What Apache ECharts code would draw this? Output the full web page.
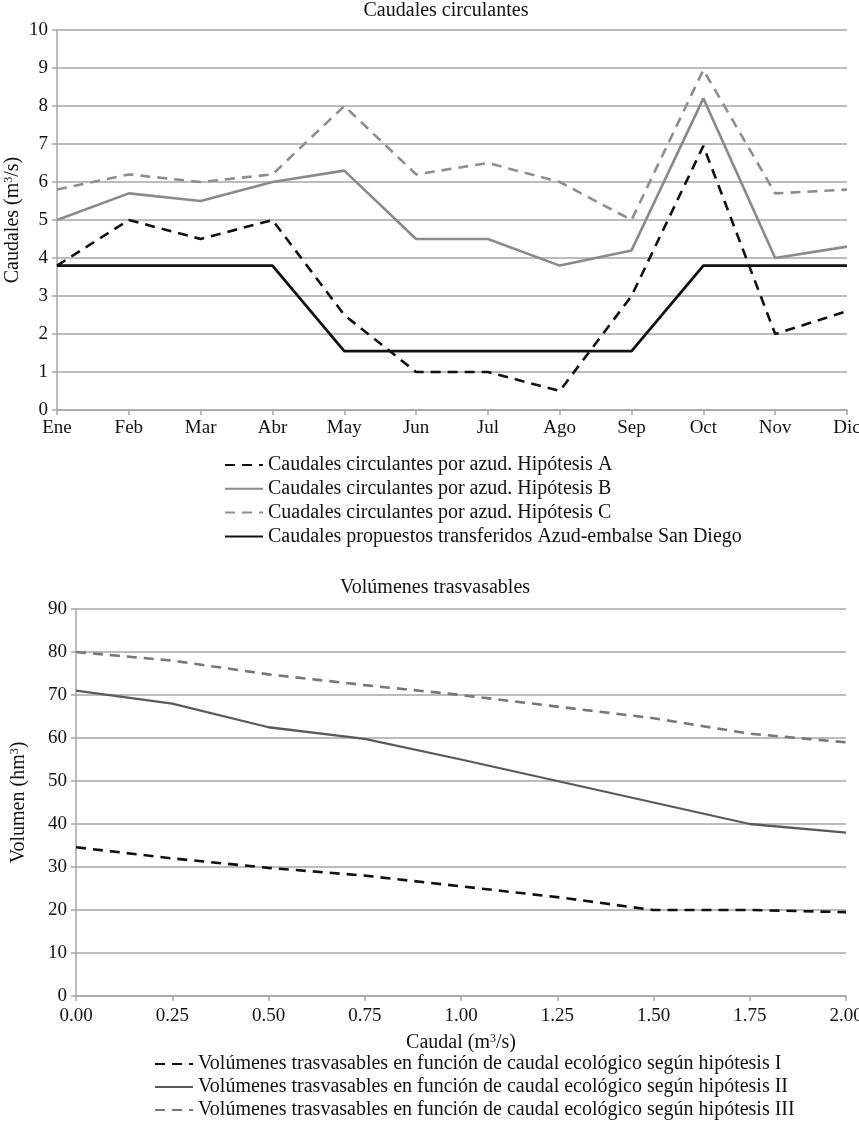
<!DOCTYPE html>
<html><head><meta charset="utf-8">
<script src="https://cdn.jsdelivr.net/npm/echarts@6/dist/echarts.min.js"></script>
<style>html,body{margin:0;padding:0;background:#fff}#c{width:859px;height:1126px}</style>
</head><body><div id="c"></div>
<script>
const months = ['Ene','Feb','Mar','Abr','May','Jun','Jul','Ago','Sep','Oct','Nov','Dic'];
const hipA = [3.8, 5.0, 4.5, 5.0, 2.5, 1.0, 1.0, 0.5, 3.0, 6.95, 2.0, 2.6];
const hipB = [5.0, 5.7, 5.5, 6.0, 6.3, 4.5, 4.5, 3.8, 4.2, 8.2, 4.0, 4.3];
const hipC = [5.8, 6.2, 6.0, 6.2, 8.0, 6.2, 6.5, 6.0, 5.0, 8.95, 5.7, 5.8];
const transf = [3.8, 3.8, 3.8, 3.8, 1.55, 1.55, 1.55, 1.55, 1.55, 3.8, 3.8, 3.8];

const caudal = [0, 0.25, 0.5, 0.75, 1.0, 1.25, 1.5, 1.75, 2.0];
const volI   = [34.6, 32.0, 29.8, 28.0, 25.5, 23.0, 20.0, 20.0, 19.5];
const volII  = [71.0, 68.0, 62.5, 59.8, 55.0, 50.0, 45.0, 40.0, 38.0];
const volIII = [80.0, 78.0, 74.8, 72.3, 70.0, 67.3, 64.6, 61.0, 59.0];

const labelsTop = ['Caudales circulantes por azud. Hipótesis A','Caudales circulantes por azud. Hipótesis B','Cuadales circulantes por azud. Hipótesis C','Caudales propuestos transferidos Azud-embalse San Diego'];
const labelsBot = ['Volúmenes trasvasables en función de caudal ecológico según hipótesis I','Volúmenes trasvasables en función de caudal ecológico según hipótesis II','Volúmenes trasvasables en función de caudal ecológico según hipótesis III'];

const F = 'Liberation Serif';
const txt = {fontFamily: F, fontSize: 19, color: '#111'};
const gridLine = {show: true, lineStyle: {color: '#a6a6a6', width: 1.5}};
const axLine = {show: true, lineStyle: {color: '#a6a6a6', width: 1.5}};
const tick = {show: true, length: 5, lineStyle: {color: '#a6a6a6', width: 1.5}};
const sup = {sup: {fontFamily: F, fontSize: 12, verticalAlign: 'top', padding: [0,0,8,0], color: '#111'}, n: {fontFamily: F, fontSize: 20, color: '#111'}};
const legText = {fontFamily: F, fontSize: 20, color: '#111', lineHeight: 20};

const pair = (xs, ys) => xs.map((x, i) => [x, ys[i]]);

const chart = echarts.init(document.getElementById('c'));
chart.setOption({
  backgroundColor: '#fff',
  animation: false,
  title: [
    {text: 'Caudales circulantes', left: 441, textAlign: 'center', top: -4, textStyle: {fontFamily: F, fontSize: 20, fontWeight: 'normal', color: '#111'}},
    {text: 'Volúmenes trasvasables', left: 430, textAlign: 'center', top: 573, textStyle: {fontFamily: F, fontSize: 20, fontWeight: 'normal', color: '#111'}}
  ],
  grid: [
    {left: 57, right: 12, top: 30, height: 380, outerBoundsMode: 'none', containLabel: false},
    {left: 76, right: 13, top: 609, height: 387, outerBoundsMode: 'none', containLabel: false}
  ],
  legend: [
    {orient: 'vertical', left: 224, top: 455, padding: 0, itemWidth: 38, itemHeight: 16, itemGap: 3.8, itemStyle: {opacity: 0}, textStyle: legText, data: labelsTop},
    {orient: 'vertical', left: 154, top: 1054, padding: 0, itemWidth: 38, itemHeight: 16, itemGap: 3, itemStyle: {opacity: 0}, textStyle: legText, data: labelsBot}
  ],
  xAxis: [
    {gridIndex: 0, type: 'category', data: months, boundaryGap: false, axisLine: axLine, axisTick: tick, axisLabel: Object.assign({margin: 9, interval: 0}, txt), splitLine: {show: false}},
    {gridIndex: 1, type: 'value', min: 0, max: 2, interval: 0.25, axisLine: axLine, axisTick: tick, axisLabel: Object.assign({margin: 11, formatter: v => v.toFixed(2)}, txt), splitLine: {show: false},
     name: '{n|Caudal (m}{sup|3}{n|/s)}', nameLocation: 'middle', nameGap: 37, nameMoveOverlap: false, nameTextStyle: {rich: sup}}
  ],
  yAxis: [
    {gridIndex: 0, type: 'value', min: 0, max: 10, interval: 1, axisLine: axLine, axisTick: tick, axisLabel: Object.assign({margin: 9}, txt), splitLine: gridLine,
     name: '{n|Caudales (m}{sup|3}{n|/s)}', nameLocation: 'middle', nameGap: 34, nameMoveOverlap: false, nameRotate: 90, nameTextStyle: {rich: sup}},
    {gridIndex: 1, type: 'value', min: 0, max: 90, interval: 10, axisLine: axLine, axisTick: tick, axisLabel: Object.assign({margin: 9}, txt), splitLine: gridLine,
     name: '{n|Volumen (hm}{sup|3}{n|)}', nameLocation: 'middle', nameGap: 47, nameMoveOverlap: false, nameRotate: 90, nameTextStyle: {rich: sup}}
  ],
  series: [
    {name: labelsTop[0], type: 'line', xAxisIndex: 0, yAxisIndex: 0, data: hipA, symbol: 'none', lineStyle: {color: '#111', width: 2.6, type: [10, 7]}, itemStyle: {color: '#111'}},
    {name: labelsTop[1], type: 'line', xAxisIndex: 0, yAxisIndex: 0, data: hipB, symbol: 'none', lineStyle: {color: '#8a8a8a', width: 2.6}, itemStyle: {color: '#8a8a8a'}},
    {name: labelsTop[2], type: 'line', xAxisIndex: 0, yAxisIndex: 0, data: hipC, symbol: 'none', lineStyle: {color: '#8e8e8e', width: 2.6, type: [10, 7]}, itemStyle: {color: '#8e8e8e'}},
    {name: labelsTop[3], type: 'line', xAxisIndex: 0, yAxisIndex: 0, data: transf, symbol: 'none', lineStyle: {color: '#111', width: 2.8}, itemStyle: {color: '#111'}},
    {name: labelsBot[0], type: 'line', xAxisIndex: 1, yAxisIndex: 1, data: pair(caudal, volI), symbol: 'none', lineStyle: {color: '#111', width: 2.6, type: [10, 7]}, itemStyle: {color: '#111'}},
    {name: labelsBot[1], type: 'line', xAxisIndex: 1, yAxisIndex: 1, data: pair(caudal, volII), symbol: 'none', lineStyle: {color: '#5a5a5a', width: 2.3}, itemStyle: {color: '#5a5a5a'}},
    {name: labelsBot[2], type: 'line', xAxisIndex: 1, yAxisIndex: 1, data: pair(caudal, volIII), symbol: 'none', lineStyle: {color: '#777', width: 2.6, type: [10, 7]}, itemStyle: {color: '#777'}}
  ]
});
</script></body></html>
